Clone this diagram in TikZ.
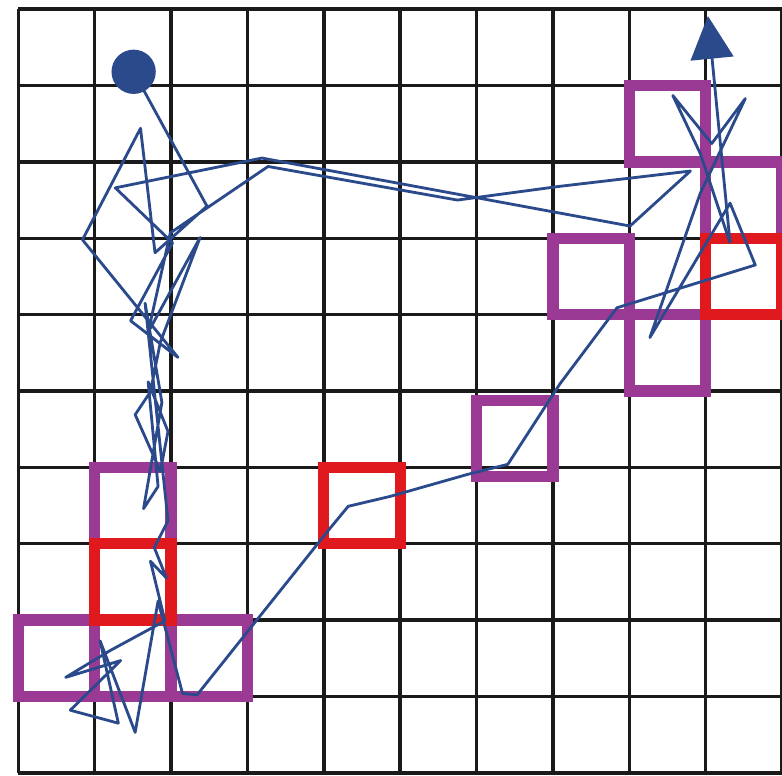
\documentclass[tikz,border=0pt]{standalone}
\usepackage{xcolor}
\usepackage{tikz}
\usetikzlibrary{arrows.meta}
\definecolor{walkblue}{HTML}{2B4A8C}
\definecolor{cellpurple}{HTML}{9B3A94}
\definecolor{cellred}{HTML}{E0191E}
\definecolor{gridblack}{HTML}{1A1A1A}

\begin{document}
\begin{tikzpicture}[
  gridline/.style={gridblack, line width=1.3pt},
  visited/.style={draw=cellpurple, line width=4.2pt},
  flagged/.style={draw=cellred, line width=4.2pt},
  walk/.style={walkblue, line width=1.05pt, line join=round},
  walkend/.style={-{Triangle[length=5.6mm, width=5.6mm]}}]
  \useasboundingbox (-0.24,-0.04) rectangle (10.0,10.12);
  \draw[gridline] (0,0) grid (10,10);
  \foreach \c/\r in {8/8, 9/7, 7/6, 8/5, 6/3.88, 1/3, 0/1, 1/1, 2/1}
    \draw[visited] (\c,\r) rectangle ++(1,1);
  \foreach \c/\r in {9/6, 4/3, 1/2}
    \draw[flagged] (\c,\r) rectangle ++(1,1);
  % random walk
  \node[circle, fill=walkblue, minimum size=0.58cm, inner sep=0pt] (start) at (1.51,9.18) {};
  \coordinate (finish) at (9.03,9.91);
  \draw[walk] (start.center) -- (2.47,7.42) -- (1.79,6.81) -- (1.60,8.44) -- (0.84,6.98)
    -- (2.09,5.44) -- (1.47,5.92) -- (2.02,6.94) -- (1.27,7.66) -- (3.19,8.05)
    -- (8.01,7.16) -- (8.80,7.88) -- (7.09,7.68) -- (5.75,7.50) -- (3.27,7.94)
    -- (1.99,7.07) -- (1.70,5.77) -- (2.38,7.01) -- (1.86,5.64) -- (1.73,4.99)
    -- (1.53,4.69) -- (1.86,3.95) -- (1.96,4.47) -- (1.70,5.12) -- (1.83,3.75)
    -- (1.64,3.46) -- (1.88,4.85) -- (1.66,6.15) -- (1.96,3.30) -- (1.78,2.95)
    -- (1.94,2.55) -- (1.73,2.77) -- (1.92,1.99) -- (1.20,1.60) -- (0.62,1.25)
    -- (1.34,1.47) -- (0.68,0.82) -- (1.31,0.65) -- (1.07,1.73) -- (1.53,0.53)
    -- (1.83,2.25) -- (2.15,1.04) -- (2.34,1.02) -- (4.08,3.20) -- (4.32,3.49)
    -- (4.87,3.62) -- (5.89,3.91) -- (6.41,4.04) -- (7.09,5.09) -- (7.84,6.09)
    -- (9.65,6.65) -- (9.32,7.46) -- (8.27,5.70) -- (8.93,7.59) -- (9.52,8.83)
    -- (9.08,8.24) -- (8.57,8.87) -- (8.93,8.11) -- (9.32,6.94);
  \draw[walk, walkend] (9.32,6.94) -- (finish);
\end{tikzpicture}
\end{document}
